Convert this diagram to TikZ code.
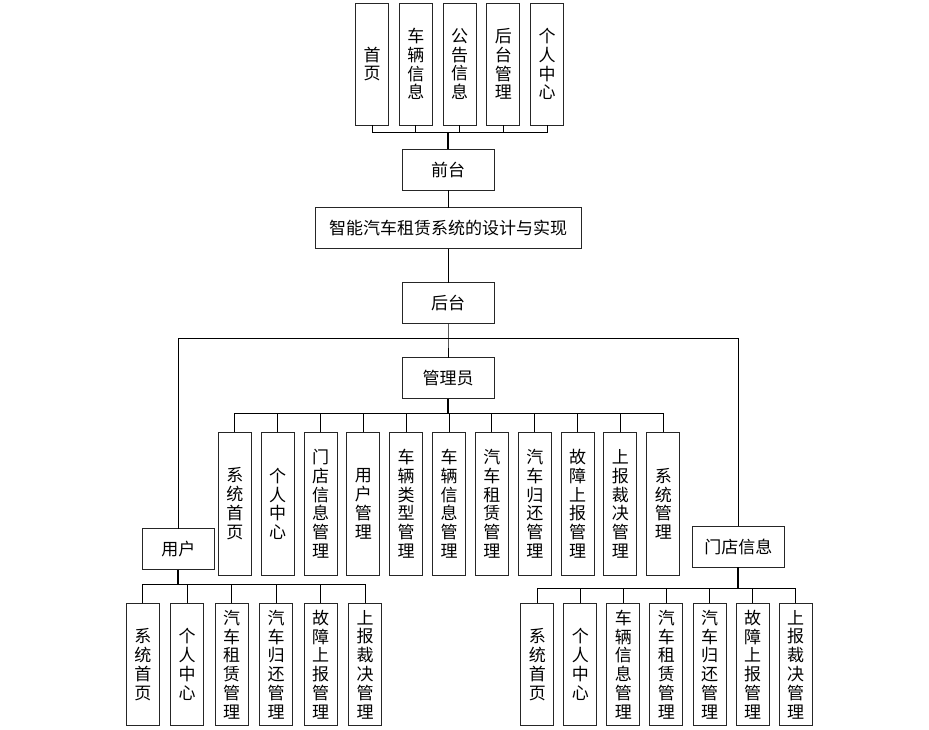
\documentclass[tikz,border=0pt]{standalone}
\usepackage{fontspec}
\setmainfont{Noto Sans CJK SC}
\usepackage{tikz}
\usetikzlibrary{positioning}
\tikzset{
  box/.style = {draw=black!85, line width=1pt, inner sep=0pt, outer sep=0pt,
    align=center, font=\fontsize{17}{18.8}\selectfont},
  hbox/.style = {box, minimum width=92pt, minimum height=41pt},
  vbox/.style = {box, minimum width=33pt, minimum height=#1},
  link/.style = {black, line width=1pt},
  trunk/.style = {black, line width=2pt}
}

\begin{document}
\begin{tikzpicture}[x=1pt,y=-1pt]
\useasboundingbox (0,0) rectangle (929,729);

\node [hbox] (qt) at (448,169.5) {前台};
\node [hbox, minimum width=266pt] (title) at (448,228) {智能汽车租赁系统的设计与实现};
\node [hbox] (ht) at (448,303) {后台};
\node [hbox] (adm) at (448,378) {管理员};
\node [hbox, minimum width=72pt] (user) at (178.3,549) {用户};
\node [hbox] (store) at (738.3,546.5) {门店信息};

\coordinate (topbus) at (448,132);
\coordinate (mainbus) at (448,338.3);
\coordinate (admbus) at (448,413.3);
\coordinate (usrbus) at (178.3,584.3);
\coordinate (storebus) at (738.3,588.7);

\foreach \txt [count=\i] in {首\\页, 车\\辆\\信\\息, 公\\告\\信\\息, 后\\台\\管\\理, 个\\人\\中\\心}
{
  \node [vbox=122pt] (t\i) at ({372+43.8*(\i-1)},64) {\txt};
  \draw [link] (t\i.south) |- (topbus);
}

\foreach \txt [count=\i] in {系\\统\\首\\页, 个\\人\\中\\心, 门\\店\\信\\息\\管\\理, 用\\户\\管\\理,
  车\\辆\\类\\型\\管\\理, 车\\辆\\信\\息\\管\\理, 汽\\车\\租\\赁\\管\\理, 汽\\车\\归\\还\\管\\理,
  故\\障\\上\\报\\管\\理, 上\\报\\裁\\决\\管\\理, 系\\统\\管\\理}
{
  \node [vbox=143pt] (a\i) at ({234.8+42.85*(\i-1)},503.8) {\txt};
  \draw [link] (a\i.north) |- (admbus);
}

\foreach \txt [count=\i] in {系\\统\\首\\页, 个\\人\\中\\心, 汽\\车\\租\\赁\\管\\理,
  汽\\车\\归\\还\\管\\理, 故\\障\\上\\报\\管\\理, 上\\报\\裁\\决\\管\\理}
{
  \node [vbox=122.4pt] (u\i) at ({142.8+44.44*(\i-1)},664.5) {\txt};
  \draw [link] (u\i.north) |- (usrbus);
}

\foreach \txt [count=\i] in {系\\统\\首\\页, 个\\人\\中\\心, 车\\辆\\信\\息\\管\\理,
  汽\\车\\租\\赁\\管\\理, 汽\\车\\归\\还\\管\\理, 故\\障\\上\\报\\管\\理, 上\\报\\裁\\决\\管\\理}
{
  \node [vbox=122.4pt] (s\i) at ({537.4+43.03*(\i-1)},664.5) {\txt};
  \draw [link] (s\i.north) |- (storebus);
}

\draw [trunk] (qt.north) -- (topbus);
\draw [link] (qt.south) -- (title.north);
\draw [link] (title.south) -- (ht.north);
\draw [link] (ht.south) -- (mainbus) -- (adm.north);
\draw [link] (user.north) |- (mainbus);
\draw [link] (store.north) |- (mainbus);
\draw [trunk] (adm.south) -- (admbus);
\draw [trunk] (user.south) -- (usrbus);
\draw [trunk] (store.south) -- (storebus);
\end{tikzpicture}
\end{document}
